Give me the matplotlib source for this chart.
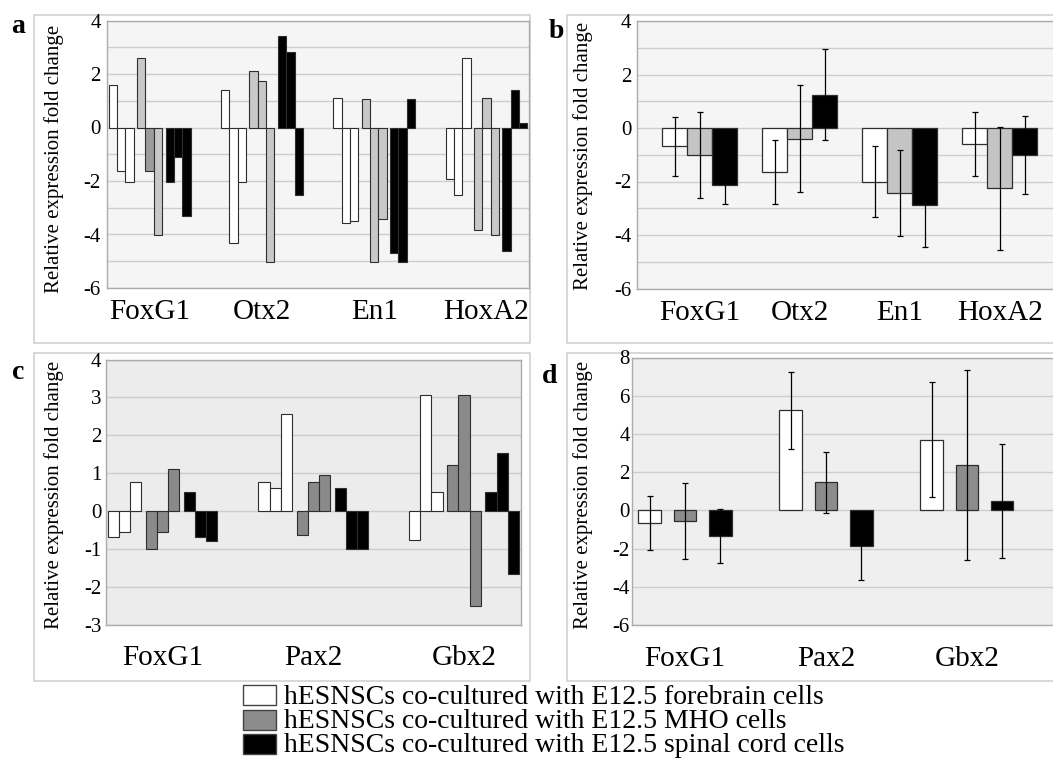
import matplotlib
matplotlib.use('Agg')
import matplotlib.pyplot as plt
from matplotlib.patches import Rectangle
import numpy as np

plt.rcParams['font.family'] = ['Liberation Serif', 'DejaVu Serif']

# ---------------- data ----------------
genes_ab = ['FoxG1', 'Otx2', 'En1', 'HoxA2']
genes_cd = ['FoxG1', 'Pax2', 'Gbx2']
conditions = ['hESNSCs co-cultured with E12.5 forebrain cells',
              'hESNSCs co-cultured with E12.5 MHO cells',
              'hESNSCs co-cultured with E12.5 spinal cord cells']

# panel a: three replicate experiments per condition, per gene
a_forebrain = [[1.60, -1.62, -2.02], [1.41, -4.31, -2.02], [1.11, -3.58, -3.50], [-1.92, -2.52, 2.61]]
a_mho       = [[2.61, -1.62, -4.01], [2.11, 1.72, -5.01], [1.05, -5.01, -3.42], [-3.83, 1.11, -4.01]]
a_spinal    = [[-2.02, -1.12, -3.32], [3.42, 2.82, -2.52], [-4.68, -5.01, 1.05], [-4.61, 1.41, 0.17]]

# panel b: mean and error
b_mean_forebrain = [-0.69, -1.65, -2.01, -0.60]
b_err_forebrain  = [1.10, 1.20, 1.32, 1.21]
b_mean_mho       = [-1.00, -0.41, -2.44, -2.25]
b_err_mho        = [1.61, 2.00, 1.61, 2.30]
b_mean_spinal    = [-2.14, 1.25, -2.89, -1.01]
b_err_spinal     = [0.69, 1.71, 1.57, 1.46]

# panel c: three replicate experiments per condition, per gene
c_forebrain = [[-0.70, -0.55, 0.76], [0.76, 0.61, 2.56], [-0.78, 3.06, 0.51]]
c_mho       = [[-1.00, -0.55, 1.11], [-0.63, 0.76, 0.96], [1.22, 3.06, -2.50]]
c_spinal    = [[0.51, -0.70, -0.79], [0.61, -1.00, -1.00], [0.51, 1.53, -1.67]]

# panel d: mean and error
d_mean_forebrain = [-0.66, 5.23, 3.70]
d_err_forebrain  = [1.40, 2.00, 3.00]
d_mean_mho       = [-0.57, 1.46, 2.37]
d_err_mho        = [2.00, 1.60, 4.99]
d_mean_spinal    = [-1.34, -1.86, 0.49]
d_err_spinal     = [1.42, 1.76, 3.00]

# ---------------- layout helpers ----------------
W, H = 1053, 761
fig = plt.figure(figsize=(W / 100, H / 100), dpi=100)


def frac(l, t, r, b):
    return [l / W, 1 - b / H, (r - l) / W, (b - t) / H]


def fig_box(l, t, r, b):
    fig.patches.append(Rectangle((l / W, 1 - b / H), (r - l) / W, (b - t) / H,
                                 transform=fig.transFigure, facecolor='white',
                                 edgecolor='#d6d6d6', linewidth=1.3, zorder=-10))


def fig_text(x, y, s, **kw):
    fig.text(x / W, 1 - y / H, s, **kw)


# outer chart frames
fig_box(33.5, 15, 530, 343)
fig_box(566.5, 15, 1070, 343)
fig_box(33.5, 353, 530, 681)
fig_box(566.5, 353, 1070, 681)


def style_axes(ax, bg, ylim, major, minor, ypad, xpad):
    ax.set_facecolor(bg)
    ax.set_ylim(*ylim)
    ax.set_yticks(major)
    ax.set_yticklabels([f'{v:g}' for v in major])
    ax.set_yticks(minor, minor=True)
    ax.yaxis.grid(True, which='both', color='#cdcdcd', linewidth=1.0, zorder=0)
    ax.set_axisbelow(True)
    ax.tick_params(axis='both', which='both', length=0)
    ax.tick_params(axis='y', labelsize=15, pad=ypad)
    ax.tick_params(axis='x', labelsize=21, pad=xpad)
    for sp in ax.spines.values():
        sp.set_color('#ababab')
        sp.set_linewidth(1.0)


def replicate_bars(ax, groups, colors, w=0.074, gap=0.031):
    centers = np.arange(len(groups[0]))
    span = 9 * w + 2 * gap
    bars = []
    for k, (grp, col) in enumerate(zip(groups, colors)):
        vals = np.asarray(grp)
        cb = []
        for r in range(3):
            x = centers - span / 2 + k * (3 * w + gap) + r * w + w / 2
            cb.append(ax.bar(x, vals[:, r], width=w, color=col, edgecolor='#2e2e2e',
                             linewidth=0.8, zorder=3))
        bars.append(cb)
    return bars


def mean_bars(ax, means, errs, colors, w, step):
    centers = np.arange(len(means[0]))
    for k, (m, e, col) in enumerate(zip(means, errs, colors)):
        x = centers + (k - 1) * step
        ax.bar(x, m, width=w, color=col, edgecolor='#2e2e2e', linewidth=0.9, zorder=3)
        ax.errorbar(x, m, yerr=e, fmt='none', ecolor='black', elinewidth=0.9,
                    capsize=2.5, capthick=0.9, zorder=4)


# ---------------- panel a ----------------
ax_a = fig.add_axes(frac(106.5, 20.5, 529, 288))
style_axes(ax_a, '#f5f5f5', (-6, 4), np.arange(-6, 5, 2), np.arange(-5, 4, 1), 4, 8)
bars_a = replicate_bars(ax_a, [a_forebrain, a_mho, a_spinal], ['white', '#c8c8c8', 'black'])
bars_a[1][1][0].set_facecolor('#9c9c9c')
ax_a.set_xlim(-0.384, 3.378)
ax_a.set_xticks(range(len(genes_ab)), genes_ab)

# ---------------- panel b ----------------
ax_b = fig.add_axes(frac(637, 21, 1060, 288.5))
style_axes(ax_b, '#f5f5f5', (-6, 4), np.arange(-6, 5, 2), np.arange(-5, 4, 1), 4, 8)
mean_bars(ax_b, [b_mean_forebrain, b_mean_mho, b_mean_spinal],
          [b_err_forebrain, b_err_mho, b_err_spinal], ['white', '#c4c4c4', 'black'], 0.25, 0.25)
ax_b.set_xlim(-0.63, 3.605)
ax_b.set_xticks(range(len(genes_ab)), genes_ab)

# ---------------- panel c ----------------
ax_c = fig.add_axes(frac(105.5, 359.5, 521, 624.5))
style_axes(ax_c, '#ececec', (-3, 4), np.arange(-3, 5, 1), [], 3, 15)
replicate_bars(ax_c, [c_forebrain, c_mho, c_spinal], ['white', '#8a8a8a', 'black'])
ax_c.set_xlim(-0.379, 2.378)
ax_c.set_xticks(range(len(genes_cd)), genes_cd)

# ---------------- panel d ----------------
ax_d = fig.add_axes(frac(632, 357.5, 1060, 625))
style_axes(ax_d, '#efefef', (-6, 8), np.arange(-6, 9, 2), [], 1.5, 15)
mean_bars(ax_d, [d_mean_forebrain, d_mean_mho, d_mean_spinal],
          [d_err_forebrain, d_err_mho, d_err_spinal], ['white', '#8c8c8c', 'black'], 0.16, 0.25)
ax_d.set_xlim(-0.376, 2.66)
ax_d.set_xticks(range(len(genes_cd)), genes_cd)

# ---------------- y labels and panel letters ----------------
ylab = 'Relative expression fold change'
for (x, y) in [(54, 159), (583, 156), (54, 495), (583, 495)]:
    fig_text(x, y, ylab, rotation=90, ha='center', va='center', fontsize=15)

for (x, y, s) in [(18.5, 33, 'a'), (556, 38, 'b'), (18.5, 379, 'c'), (550, 383, 'd')]:
    fig_text(x, y, s, ha='center', va='baseline', fontsize=20, fontweight='bold')

# ---------------- legend ----------------
legend_colors = ['white', '#8c8c8c', 'black']
for i, (lab, col) in enumerate(zip(conditions, legend_colors)):
    yc = 695 + 24.5 * i
    fig.patches.append(Rectangle((243 / W, 1 - (yc + 10) / H), 33 / W, 20 / H,
                                 transform=fig.transFigure, facecolor=col,
                                 edgecolor='#444444', linewidth=1.0))
    fig_text(283.5, yc + 8.5, lab, ha='left', va='baseline', fontsize=20)

fig.savefig('out.png', dpi=100)
